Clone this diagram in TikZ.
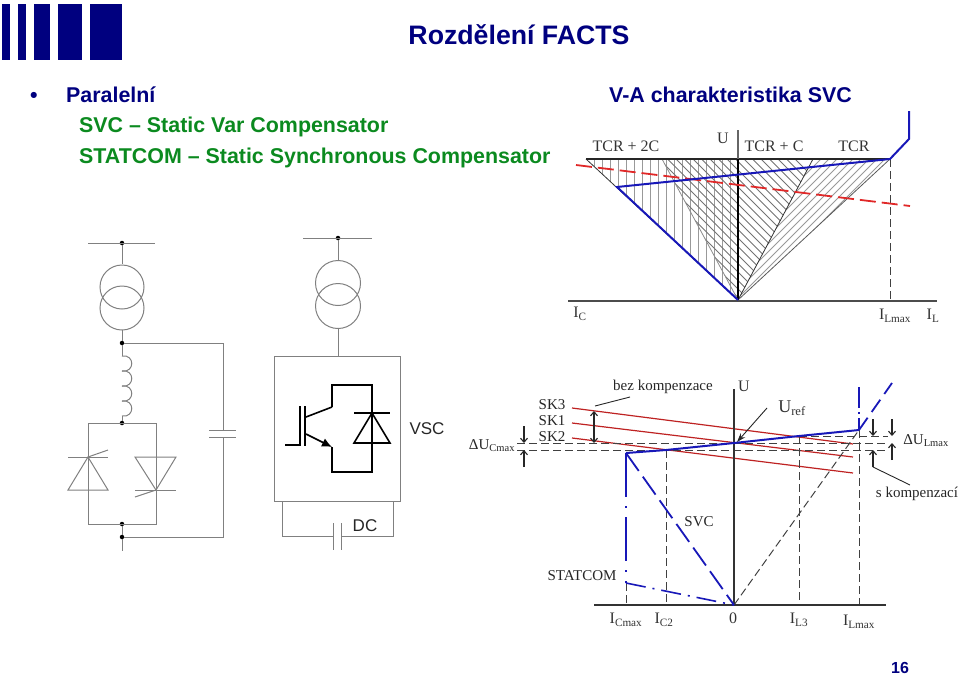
\documentclass[tikz,border=0pt]{standalone}
\usepackage{fontspec}
\setmainfont{Liberation Serif}
\setsansfont{Liberation Sans}
\usetikzlibrary{arrows.meta}
\definecolor{navytxt}{HTML}{00007F}
\definecolor{greentxt}{HTML}{0B8A1F}
\definecolor{svcblue}{HTML}{1818B8}
\definecolor{svcred}{HTML}{E02828}
\definecolor{wiregray}{HTML}{808080}
\tikzset{%
  wire/.style={wiregray, line width=1pt},
  power/.style={black, line width=1.6pt},
  blueline/.style={svcblue, line width=2pt},
  bluedash/.style={svcblue, line width=1.8pt, dash pattern=on 22pt off 7pt},
  bluedot/.style={svcblue, line width=1.6pt, dash pattern=on 44pt off 9pt on 2pt off 9pt},
  redline/.style={svcred!85!black, line width=1.2pt},
  reddash/.style={svcred, line width=1.8pt, dash pattern=on 16pt off 6pt},
  helper/.style={black!75, line width=1pt, dash pattern=on 8pt off 4pt},
  axisline/.style={black!70, line width=1.3pt},
  hatch/.style={black!40, line width=0.8pt},
  dimarrow/.style={black!85, line width=1.1pt, -{Straight Barb[length=4pt,width=7pt]}},
  junction/.style={circle, fill=black, inner sep=0pt, minimum size=4.5pt},
  plotlabel/.style={font=\fontsize{16}{16}\selectfont, text=black!80, inner sep=0pt},
  smalllabel/.style={font=\fontsize{15}{15}\selectfont, text=black!85, inner sep=0pt},
  slidehead/.style={font=\sffamily\bfseries\fontsize{21.4}{23}\selectfont, text=navytxt, inner sep=0pt, anchor=base west},
  slidegreen/.style={font=\sffamily\bfseries\fontsize{21.4}{23}\selectfont, text=greentxt, inner sep=0pt, anchor=base west},
  sanslabel/.style={font=\sffamily\fontsize{17}{17}\selectfont, text=black!85, inner sep=0pt},
}

\begin{document}
\begin{tikzpicture}[x=1pt, y=-1pt]
\useasboundingbox (0,0) rectangle (960,678);
% logo
\foreach \xa/\xb in {2/10,18/26,34/50,58/82,90/122}
    \fill[navytxt] (\xa,4) rectangle (\xb,60);
% heading
\node[font=\sffamily\bfseries\fontsize{26.7}{28}\selectfont, text=navytxt, inner sep=0pt] (title) at (519,35) {Rozdělení FACTS};
\node[slidehead] (bullet) at (30,102) {•};
\node[slidehead] (parallel) at (66,102) {Paralelní};
\node[slidehead] (vahead) at (609,102) {V-A charakteristika SVC};
\node[slidegreen] (svctext) at (79,132) {SVC – Static Var Compensator};
\node[slidegreen] (statcomtext) at (79,163) {STATCOM – Static Synchronous Compensator};
\node[font=\sffamily\bfseries\fontsize{16}{16}\selectfont, text=navytxt, inner sep=0pt] (pagenum) at (900,668) {16};

% upper characteristic
\begin{scope}
    \clip (586,159) -- (738,300) -- (738,159) -- cycle;
    \foreach \x in {0,...,19}
        \draw[hatch] (738-8*\x,159) -- (738-8*\x,300);
\end{scope}
\begin{scope}
    \clip (662,159) -- (813,159) -- (738,300) -- cycle;
    \foreach \x in {0,...,30}
        \draw[hatch,black!55] (540+8.5*\x,159) -- ++(150,150);
\end{scope}
\begin{scope}
    \clip (813,159) -- (890,159) -- (738,300) -- cycle;
    \foreach \x in {0,...,30}
        \draw[hatch] (640+8*\x,300) -- ++(150,-150);
\end{scope}
\coordinate (zero1) at (738,300);
\coordinate (topa) at (586,159);
\coordinate (topb) at (662,159);
\coordinate (topc) at (813,159);
\coordinate (topd) at (890,159);
\draw[black!45, line width=0.8pt] (topb) -- (zero1);
\draw[black!80, line width=0.8pt] (topa) -- (zero1) -- (topc);
\draw[black!65, line width=0.8pt] (zero1) -- (topd);
\draw[black!85, line width=1.1pt] (topa) -- (topd);
\draw[axisline, black!60] (738,130) -- (zero1);
\draw[black, line width=1.1pt] (738,159) -- (zero1);
\draw[axisline] (568,301) -- (937,301);
\draw[helper] (topd) -- (890,301);
\draw[reddash] (576,165) -- (910,206);
\draw[blueline] (909,111) -- (909,139) -- (topd) -- (617,187) -- (zero1);
\node[plotlabel] (tcr2c) at (626,146) {TCR + 2C};
\node[plotlabel] (uupper) at (723,138) {U};
\node[plotlabel] (tcrc) at (774,146) {TCR + C};
\node[plotlabel] (tcr) at (854,146) {TCR};
\node[plotlabel] (ic) at (580,314) {I\textsubscript{C}};
\node[plotlabel] (ilmax) at (895,316) {I\textsubscript{Lmax}};
\node[plotlabel] (il) at (933,316) {I\textsubscript{L}};

% SVC circuit
\node[junction] (busa) at (122,243) {};
\node[junction] (joina) at (122,343) {};
\node[junction] (joinb) at (122,423) {};
\node[junction] (joinc) at (122,524) {};
\node[junction] (joind) at (122,537) {};
\draw[wire] (88,243) -- (155,243);
\draw[wire] (busa) -- (122,264);
\draw[wire] (122,287) circle (22);
\draw[wire] (122,308) circle (22);
\draw[wire] (122,330) -- (joina);
\draw[wire] (joina) -- (122,356);
\foreach \y in {356,371,386,401}
    \draw[wire] (122,\y) .. controls (135,\y-2) and (135,\y+17) .. (122,\y+15);
\draw[wire] (122,416) -- (joinb);
\draw[wire] (joina) -- (223,343) -- (223,430);
\draw[wire] (209,430) -- (236,430);
\draw[wire] (209,437) -- (236,437);
\draw[wire] (223,437) -- (223,537) -- (joind);
\draw[wire] (88,423) rectangle (156,524);
\draw[wire] (joinc) -- (joind) -- (122,551);
% thyristors
\draw[wire] (68,457) -- (108,457);
\draw[wire] (68,490) -- (108,490) -- (88,457) -- cycle;
\draw[wire] (88,457) -- (108,450);
\draw[wire] (135,457) -- (176,457) -- (156,490) -- cycle;
\draw[wire] (135,490) -- (176,490);
\draw[wire] (156,490) -- (135,497);

% STATCOM circuit
\node[junction] (busb) at (338,238) {};
\draw[wire] (303,238) -- (372,238);
\draw[wire] (busb) -- (338,261);
\draw[wire] (338,283) circle (22.5);
\draw[wire] (338,306) circle (22.5);
\draw[wire] (338,328) -- (338,356);
\draw[wire] (274,356) rectangle (400,501);
\draw[power] (332,407) -- (332,385) -- (372,385) -- (372,472) -- (332,472) -- (332,447);
\draw[power] (332,407) -- (306,417);
\draw[power, -{Latex[length=10pt,width=9pt]}] (306,434) -- (332,447);
\draw[power] (285,445) -- (300,445) -- (300,406);
\draw[power] (305,406) -- (305,446);
\draw[power] (354,413) -- (390,413);
\draw[power, line join=miter] (372,413) -- (390,443) -- (354,443) -- cycle;
\draw[wire] (282,501) -- (282,536) -- (333,536);
\draw[wire] (333,523) -- (333,550);
\draw[wire] (341,523) -- (341,550);
\draw[wire] (341,536) -- (393,536) -- (393,501);
\node[sanslabel] (vsc) at (427,429) {VSC};
\node[sanslabel] (dc) at (365,526) {DC};

% lower characteristic
\coordinate (zero2) at (734,605);
\coordinate (ptcmax) at (626,453);
\coordinate (ptstat) at (626,583);
\coordinate (ptctwo) at (666,450);
\coordinate (ptref) at (734,443);
\coordinate (ptlthree) at (799,436);
\coordinate (ptlmax) at (859,430);
\draw[redline] (572,408) -- (853,444);
\draw[redline] (572,423) -- (853,457);
\draw[redline] (572,438) -- (853,473);
\draw[helper] (517,443) -- (888,443);
\draw[helper] (517,450) -- (888,450);
\draw[helper] (ptlthree) -- (888,436);
\draw[helper] (ptstat) -- (626,605);
\draw[helper] (ptctwo) -- (666,605);
\draw[helper] (ptlthree) -- (799,605);
\draw[helper] (ptlmax) -- (859,605);
\draw[helper] (zero2) -- (ptlmax);
\draw[black!80, line width=1.1pt] (734,389) -- (zero2);
\draw[black!80, line width=1.1pt] (594,605) -- (886,605);
\draw[blueline] (ptcmax) -- (ptctwo) -- (ptref) -- (ptlthree) -- (ptlmax);
\draw[bluedash, dash pattern=on 15pt off 7pt] (ptlmax) -- (892,383);
\draw[bluedot, dash pattern=on 21pt off 4pt on 2pt off 4pt] (859,387) -- (ptlmax);
\draw[bluedot] (ptcmax) -- (ptstat);
\draw[bluedot, dash pattern=on 20pt off 7pt on 2pt off 7pt] (ptstat) -- (zero2);
\draw[bluedash] (ptcmax) -- (zero2);
\draw[dimarrow, {Straight Barb[length=4pt,width=7pt]}-{Straight Barb[length=4pt,width=7pt]}] (594,411) -- (594,443);
\draw[black!85, line width=0.9pt] (595,406) -- (630,397);
\draw[dimarrow] (524,426) -- (524,443);
\draw[dimarrow] (524,467) -- (524,450);
\draw[dimarrow] (873,419) -- (873,436);
\draw[dimarrow] (873,467) -- (873,450);
\draw[dimarrow] (892,419) -- (892,436);
\draw[dimarrow] (892,460) -- (892,443);
\draw[black!85, line width=0.9pt] (873,467) -- (910,485);
\draw[black!85, line width=0.9pt, -{Stealth[length=9pt,width=6pt]}] (767,408) -- (737,442);
\node[smalllabel] (bezkomp) at (663,387) {bez kompenzace};
\node[plotlabel] (ulow) at (744,386) {U};
\node[smalllabel] (skthree) at (552,405) {SK3};
\node[smalllabel] (skone) at (552,421) {SK1};
\node[smalllabel] (sktwo) at (552,437) {SK2};
\node[smalllabel] (ducmax) at (492,446) {ΔU\textsubscript{Cmax}};
\node[smalllabel] (dulmax) at (926,441) {ΔU\textsubscript{Lmax}};
\node[smalllabel] (skomp) at (917,494) {s kompenzací};
\node[smalllabel] (svclabel) at (699,522) {SVC};
\node[smalllabel] (statlabel) at (582,576) {STATCOM};
\node[plotlabel, font=\fontsize{18}{18}\selectfont] (uref) at (792,408) {U\textsubscript{ref}};
\node[plotlabel] (icmax) at (626,620) {I\textsubscript{Cmax}};
\node[plotlabel] (ictwo) at (664,620) {I\textsubscript{C2}};
\node[plotlabel] (zerolabel) at (733,618) {0};
\node[plotlabel] (ilthree) at (799,620) {I\textsubscript{L3}};
\node[plotlabel] (ilmaxb) at (859,622) {I\textsubscript{Lmax}};
\end{tikzpicture}
\end{document}
